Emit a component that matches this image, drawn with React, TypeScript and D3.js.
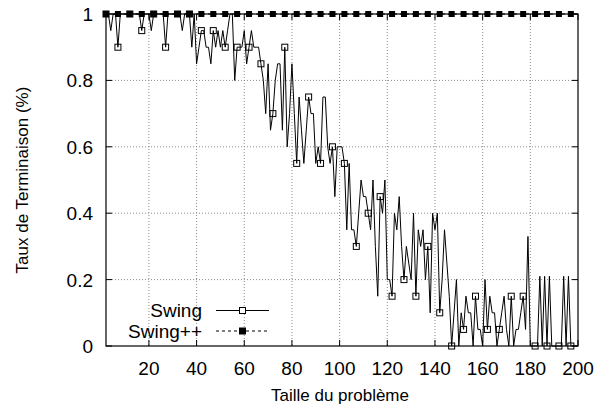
import * as d3 from "d3";

const width = 605;
const height = 407;
const marginTop = 14;
const marginBottom = 61;
const marginLeft = 106;
const marginRight = 27;

// Taux de terminaison pour chaque taille de problème, de 2 à 200
const swingRate = [
  1, 1, 0.95, 1, 1, 0.9, 1, 1, 1, 1,
  1, 1, 1, 1, 1, 0.95, 1, 1, 1, 0.95,
  1, 1, 1, 1, 1, 0.9, 1, 1, 1, 1,
  1, 1, 0.95, 1, 1, 1, 0.9, 1, 0.85, 0.9,
  0.95, 0.95, 0.9, 0.9, 0.85, 0.95, 0.9, 0.95, 0.9, 0.95,
  0.9, 0.95, 1, 1, 0.8, 0.9, 0.9, 0.9, 0.95, 0.85,
  0.9, 0.95, 0.9, 0.9, 0.9, 0.85, 0.8, 0.7, 0.85, 0.65,
  0.7, 0.8, 0.85, 0.85, 0.65, 0.9, 0.6, 0.7, 0.85, 0.7,
  0.55, 0.75, 0.65, 0.55, 0.65, 0.75, 0.7, 0.7, 0.55, 0.6,
  0.55, 0.75, 0.75, 0.6, 0.55, 0.6, 0.45, 0.6, 0.6, 0.6,
  0.55, 0.35, 0.55, 0.35, 0.35, 0.3, 0.4, 0.5, 0.45, 0.45,
  0.4, 0.35, 0.5, 0.3, 0.15, 0.45, 0.4, 0.5, 0.2, 0.2,
  0.15, 0.4, 0.35, 0.45, 0.3, 0.2, 0.3, 0.25, 0.2, 0.4,
  0.15, 0.35, 0.3, 0.35, 0.2, 0.3, 0.1, 0.4, 0.35, 0.4,
  0.1, 0.2, 0.35, 0.25, 0.15, 0, 0.1, 0.2, 0, 0.1,
  0.05, 0.15, 0.1, 0.1, 0, 0.15, 0.05, 0.05, 0, 0.2,
  0.05, 0.15, 0.1, 0.1, 0, 0.05, 0.1, 0.15, 0.05, 0,
  0.15, 0, 0.05, 0.05, 0.1, 0.15, 0.05, 0.33, 0, 0,
  0, 0, 0.21, 0, 0.21, 0, 0.21, 0, 0, 0,
  0, 0, 0.21, 0, 0.21, 0, 0, 0, 0,
];

const swingPlusRate = [
  1, 1, 1, 1, 1, 1, 1, 1, 1, 1, 1, 1, 1, 1, 1, 1, 1, 1, 1, 1,
  1, 1, 1, 1, 1, 1, 1, 1, 1, 1, 1, 1, 1, 1, 1, 1, 1, 1, 1, 1,
  1, 1, 1, 1, 1, 1, 1, 1, 1, 1, 1, 1, 1, 1, 1, 1, 1, 1, 1, 1,
  1, 1, 1, 1, 1, 1, 1, 1, 1, 1, 1, 1, 1, 1, 1, 1, 1, 1, 1, 1,
  1, 1, 1, 1, 1, 1, 1, 1, 1, 1, 1, 1, 1, 1, 1, 1, 1, 1, 1, 1,
  1, 1, 1, 1, 1, 1, 1, 1, 1, 1, 1, 1, 1, 1, 1, 1, 1, 1, 1, 1,
  1, 1, 1, 1, 1, 1, 1, 1, 1, 1, 1, 1, 1, 1, 1, 1, 1, 1, 1, 1,
  1, 1, 1, 1, 1, 1, 1, 1, 1, 1, 1, 1, 1, 1, 1, 1, 1, 1, 1, 1,
  1, 1, 1, 1, 1, 1, 1, 1, 1, 1, 1, 1, 1, 1, 1, 1, 1, 1, 1, 1,
  1, 1, 1, 1, 1, 1, 1, 1, 1, 1, 1, 1, 1, 1, 1, 1, 1, 1, 1,
];

const firstSize = 2;
const lastSize = 200;
const xTicks = [20, 40, 60, 80, 100, 120, 140, 160, 180, 200];
const yTicks = [0, 0.2, 0.4, 0.6, 0.8, 1];
const pointInterval = 5;
const legendLabels = ["Swing", "Swing++"];

const font = "'Liberation Sans', Arial, Helvetica, sans-serif";

const App = () => {
  const plotRight = width - marginRight;
  const plotBottom = height - marginBottom;

  const xScale = d3
    .scaleLinear()
    .domain([firstSize, lastSize])
    .range([marginLeft, plotRight]);

  const yScale = d3.scaleLinear().domain([0, 1]).range([plotBottom, marginTop]);

  const sizeOf = (i: number) => firstSize + i;

  const line = d3
    .line<number>()
    .x((_, i) => xScale(sizeOf(i)))
    .y((d) => yScale(d));

  const swingMarks = swingRate
    .map((d, i) => ({ x: sizeOf(i), y: d, i }))
    .filter((d) => d.i % pointInterval === 0);
  const plusMarks = swingPlusRate
    .map((d, i) => ({ x: sizeOf(i), y: d, i }))
    .filter((d) => d.i % pointInterval === 0);

  const half = 3;
  const tickLen = 6;

  const legendX1 = 216;
  const legendX2 = 269;
  const legendMid = (legendX1 + legendX2) / 2;
  const legendY = [310.5, 331];

  return (
    <div style={{ position: "absolute", left: 0, top: 0 }}>
      <svg width={width} height={height} viewBox={`0 0 ${width} ${height}`}>
        <rect width={width} height={height} fill="white" />

        {/* grille */}
        <g stroke="#8c8c8c" strokeWidth={1} strokeDasharray="1,2">
          {xTicks
            .filter((t) => t < lastSize)
            .map((t) => (
              <line
                key={`gx${t}`}
                x1={xScale(t)}
                x2={xScale(t)}
                y1={marginTop}
                y2={plotBottom}
              />
            ))}
          {yTicks
            .filter((t) => t > 0 && t < 1)
            .map((t) => (
              <line
                key={`gy${t}`}
                x1={marginLeft}
                x2={plotRight}
                y1={yScale(t)}
                y2={yScale(t)}
              />
            ))}
        </g>

        {/* graduations */}
        <g stroke="black" strokeWidth={1}>
          {xTicks.map((t) => (
            <g key={`tx${t}`}>
              <line
                x1={xScale(t)}
                x2={xScale(t)}
                y1={plotBottom}
                y2={plotBottom - tickLen}
              />
              <line
                x1={xScale(t)}
                x2={xScale(t)}
                y1={marginTop}
                y2={marginTop + tickLen}
              />
            </g>
          ))}
          {yTicks.map((t) => (
            <g key={`ty${t}`}>
              <line
                x1={marginLeft}
                x2={marginLeft + tickLen}
                y1={yScale(t)}
                y2={yScale(t)}
              />
              <line
                x1={plotRight}
                x2={plotRight - tickLen}
                y1={yScale(t)}
                y2={yScale(t)}
              />
            </g>
          ))}
        </g>

        {/* Swing */}
        <path
          d={line(swingRate) ?? ""}
          fill="none"
          stroke="black"
          strokeWidth={1}
          strokeLinejoin="miter"
        />
        {swingMarks.map((d) => (
          <rect
            key={`s${d.x}`}
            x={xScale(d.x) - half}
            y={yScale(d.y) - half}
            width={half * 2}
            height={half * 2}
            fill="none"
            stroke="black"
            strokeWidth={1}
          />
        ))}

        {/* Swing++ */}
        <path
          d={line(swingPlusRate) ?? ""}
          fill="none"
          stroke="black"
          strokeWidth={1}
          strokeDasharray="3,3"
        />
        {plusMarks.map((d) => (
          <rect
            key={`p${d.x}`}
            x={xScale(d.x) - half}
            y={yScale(d.y) - half}
            width={half * 2}
            height={half * 2}
            fill="black"
          />
        ))}

        {/* cadre */}
        <rect
          x={marginLeft}
          y={marginTop}
          width={plotRight - marginLeft}
          height={plotBottom - marginTop}
          fill="none"
          stroke="black"
          strokeWidth={1.2}
        />

        {/* étiquettes */}
        <g fontFamily={font} fill="black">
          <g fontSize={19}>
            {xTicks.map((t) => (
              <text key={`lx${t}`} x={xScale(t)} y={plotBottom + 29} textAnchor="middle">
                {t}
              </text>
            ))}
            {yTicks.map((t) => (
              <text key={`ly${t}`} x={marginLeft - 13} y={yScale(t) + 7} textAnchor="end">
                {t}
              </text>
            ))}
          </g>
          <g fontSize={17}>
            <text x={(marginLeft + plotRight) / 2 - 2} y={401} textAnchor="middle">
              Taille du problème
            </text>
            <text
              transform={`translate(28,${(marginTop + plotBottom) / 2}) rotate(-90)`}
              textAnchor="middle"
            >
              Taux de Terminaison (%)
            </text>
          </g>
        </g>

        {/* légende */}
        <g fontFamily={font} fontSize={19}>
          {legendLabels.map((label, k) => (
            <g key={label}>
              <text x={202} y={legendY[k] + 6.5} textAnchor="end">
                {label}
              </text>
              <line
                x1={legendX1}
                x2={legendX2}
                y1={legendY[k]}
                y2={legendY[k]}
                stroke="black"
                strokeDasharray={k === 1 ? "3,3" : undefined}
              />
              <rect
                x={legendMid - half}
                y={legendY[k] - half}
                width={half * 2}
                height={half * 2}
                fill={k === 1 ? "black" : "white"}
                stroke="black"
              />
            </g>
          ))}
        </g>
      </svg>
    </div>
  );
};

export default App;
